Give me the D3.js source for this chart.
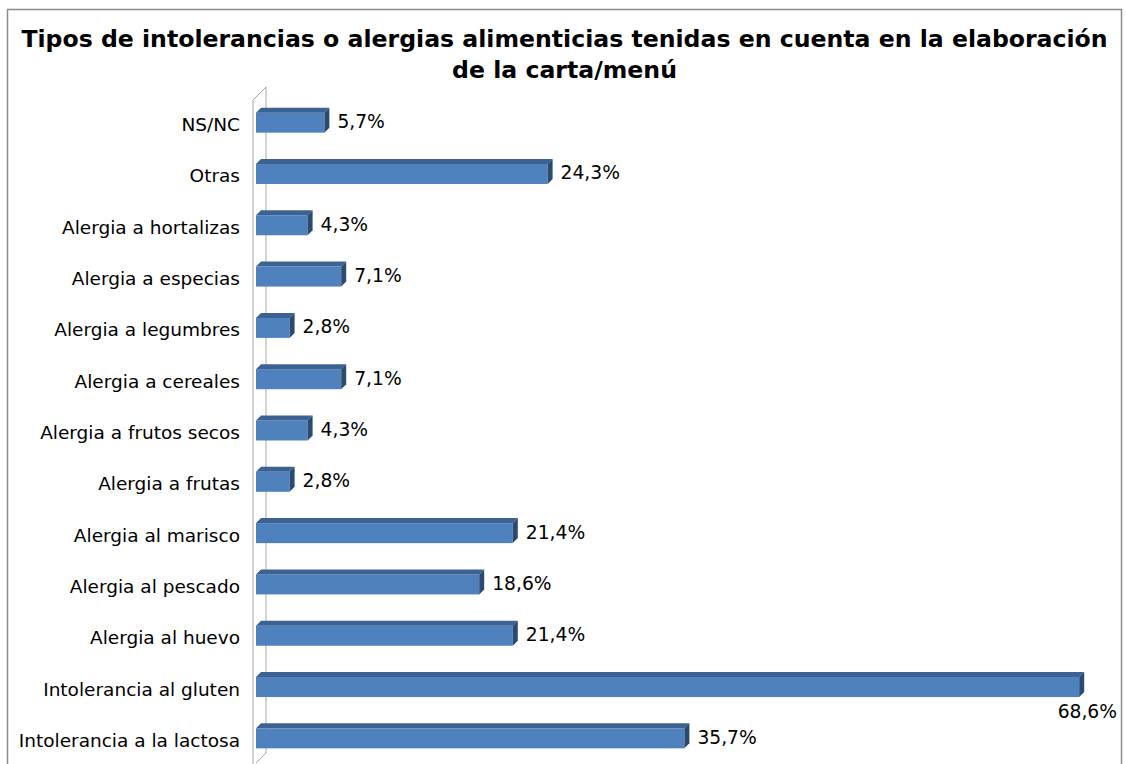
<!DOCTYPE html>
<html>
<head>
<meta charset="utf-8">
<script src="https://cdn.jsdelivr.net/npm/d3@7"></script>
<style>
  html, body { margin: 0; padding: 0; background: #fff; }
  svg { display: block; }
</style>
</head>
<body>
<svg id="chart" width="1126" height="764"></svg>
<script>
// Categories from top to bottom of the chart
const categories = [
  "NS/NC",
  "Otras",
  "Alergia a hortalizas",
  "Alergia a especias",
  "Alergia a legumbres",
  "Alergia a cereales",
  "Alergia a frutos secos",
  "Alergia a frutas",
  "Alergia al marisco",
  "Alergia al pescado",
  "Alergia al huevo",
  "Intolerancia al gluten",
  "Intolerancia a la lactosa"
];
// Share of respondents (%)
const values = [5.7, 24.3, 4.3, 7.1, 2.8, 7.1, 4.3, 2.8, 21.4, 18.6, 21.4, 68.6, 35.7];
const valueLabels = ["5,7%", "24,3%", "4,3%", "7,1%", "2,8%", "7,1%", "4,3%", "2,8%", "21,4%", "18,6%", "21,4%", "68,6%", "35,7%"];
const titleLines = [
  "Tipos de intolerancias o alergias alimenticias tenidas en cuenta en la elaboración",
  "de la carta/menú"
];

const svg = d3.select("#chart");
const W = 1126, H = 764;
const font = "'DejaVu Sans', sans-serif";

// Outer chart frame
svg.append("rect")
  .attr("x", 7.5).attr("y", 9.5)
  .attr("width", 1114).attr("height", 770)
  .attr("fill", "#fff").attr("stroke", "#8c8c8c").attr("stroke-width", 1.5);

// Title
svg.append("g").selectAll("text").data(titleLines).join("text")
  .attr("x", 564.5)
  .attr("y", (d, i) => 47 + i * 31)
  .attr("text-anchor", "middle")
  .attr("font-family", font)
  .attr("font-weight", "bold")
  .attr("font-size", 23.6)
  .attr("fill", "#000")
  .text(d => d);

// Scales
const x = d3.scaleLinear().domain([0, 70]).range([256, 1096]);
const y = d3.scaleBand().domain(categories).range([97, 764])
  .paddingInner(0.61).paddingOuter(0.305);
const depth = 5;

// Side walls of the 3D plot area
const wallX0 = 253, wallX1 = 266;
const walls = svg.append("g").attr("fill", "none").attr("stroke", "#a6a6a6").attr("stroke-width", 1);
walls.append("path").attr("d", `M${wallX0},${H + 10}V100L${wallX1},87V753L${wallX0 + 3},${763}`);

// Bars
const data = categories.map((c, i) => ({ cat: c, v: values[i], label: valueLabels[i] }));
const bars = svg.append("g").selectAll("g").data(data).join("g");

bars.append("rect")
  .attr("x", x(0))
  .attr("y", d => y(d.cat))
  .attr("width", d => x(d.v) - x(0))
  .attr("height", y.bandwidth())
  .attr("fill", "#4f81bd");

bars.append("path")
  .attr("fill", "#3c6294")
  .attr("d", d => {
    const x0 = x(0), x1 = x(d.v), t = y(d.cat);
    return `M${x0},${t}L${x0 + depth},${t - depth}L${x1 + depth},${t - depth}L${x1},${t}Z`;
  });

bars.append("path")
  .attr("fill", "#2b4a70")
  .attr("d", d => {
    const x1 = x(d.v), t = y(d.cat), b = t + y.bandwidth();
    return `M${x1},${t}L${x1 + depth},${t - depth}L${x1 + depth},${b - depth}L${x1},${b}Z`;
  });

// Value labels: beside the bar, or below it when there is no room on the right
bars.append("text")
  .attr("font-family", font)
  .attr("font-size", 18.7)
  .attr("fill", "#000")
  .attr("dominant-baseline", "central")
  .each(function (d) {
    const el = d3.select(this);
    const c = y(d.cat) + y.bandwidth() / 2;
    if (x(d.v) + 80 > 1110) {
      el.attr("x", 1117).attr("y", c + 24).attr("text-anchor", "end");
    } else {
      el.attr("x", x(d.v) + 13).attr("y", c - 1).attr("text-anchor", "start");
    }
  })
  .text(d => d.label);

// Category axis labels
svg.append("g").selectAll("text").data(categories).join("text")
  .attr("x", 240)
  .attr("y", d => y(d) + y.bandwidth() / 2 + 2)
  .attr("text-anchor", "end")
  .attr("dominant-baseline", "central")
  .attr("font-family", font)
  .attr("font-size", 18.5)
  .attr("fill", "#000")
  .text(d => d);
</script>
</body>
</html>
